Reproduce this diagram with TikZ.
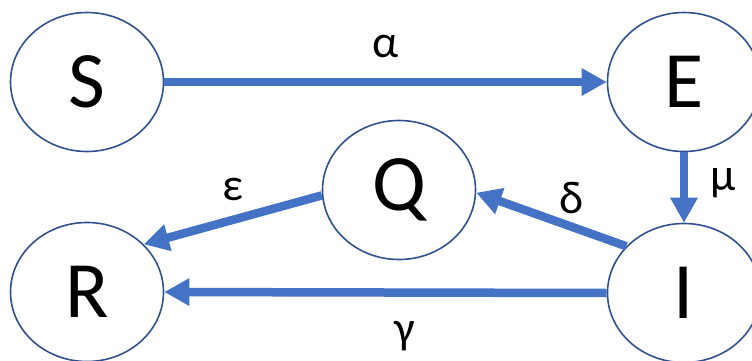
\documentclass[tikz,border=0pt]{standalone}
\usepackage{fontspec}
\setmainfont{Carlito}
\usepackage{tikz}
\usetikzlibrary{shapes.geometric, arrows.meta}
\definecolor{flowblue}{HTML}{4472C4}
\definecolor{ringblue}{HTML}{2F528F}

\begin{document}
\begin{tikzpicture}[x=1pt, y=1pt,
  compartment/.style={draw=ringblue, line width=1.6pt, ellipse, inner sep=0pt,
    minimum width=153pt, minimum height=139pt, font=\fontsize{80}{80}\selectfont},
  flow/.style={draw=flowblue, line width=8.5pt, -{Triangle[length=25pt, width=26pt]}},
  rate/.style={anchor=base, inner sep=0pt, font=\fontsize{46}{46}\selectfont}]
\useasboundingbox (0,0) rectangle (752,360);

% Compartments
\node[compartment] (S) at (87,278) {S};
\node[compartment] (E) at (684,278) {E};
\node[compartment] (Q) at (399,170) {Q};
\node[compartment] (R) at (87,68) {R};
\node[compartment] (I) at (684,67) {I};

% Transitions
\draw[flow] (S.east) -- (E.west);
\draw[flow] (E.south) -- (I.north);
\draw[flow] (I.141) -- (Q.-2);
\draw[flow] (Q.184) -- (R.40);
\draw[flow] (I.west) -- (R.east);

% Rates
\node[rate] (alpha) at (386,303) {α};
\node[rate] (mu) at (723,170) {μ};
\node[rate] (delta) at (572,147) {δ};
\node[rate] (eps) at (233,160) {ε};
\node[rate] (gamma) at (405,17) {γ};
\end{tikzpicture}
\end{document}
